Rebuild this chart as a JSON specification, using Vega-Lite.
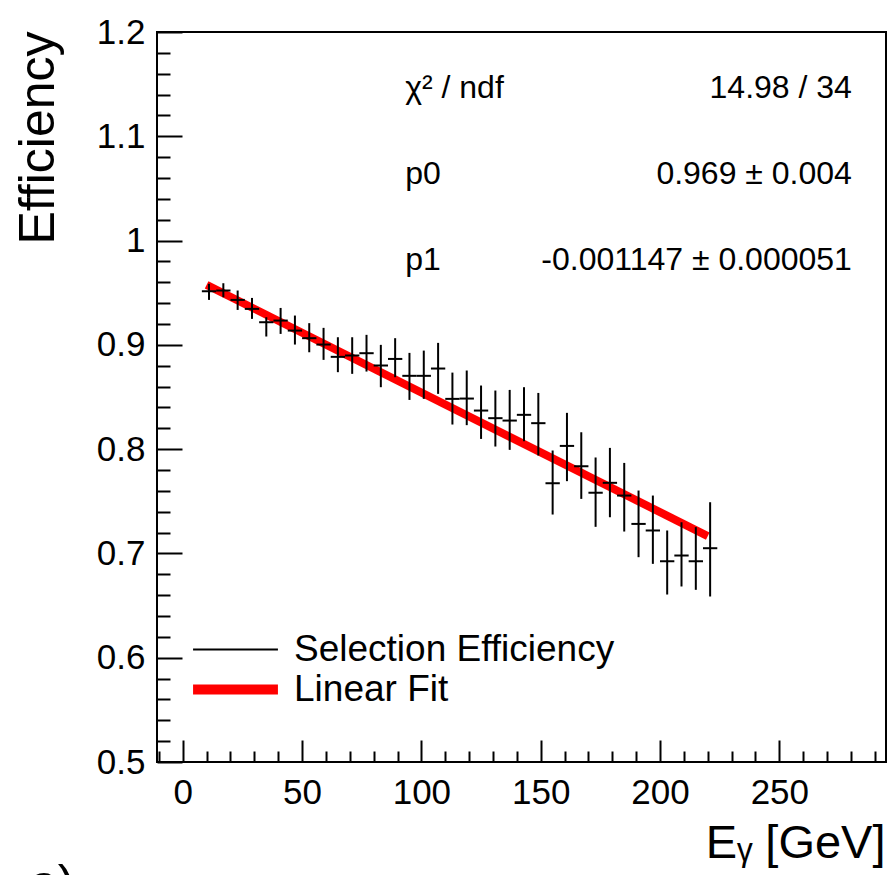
{
  "$schema": "https://vega.github.io/schema/vega-lite/v6.json",
  "width": 729,
  "height": 730,
  "autosize": {"type": "none"},
  "padding": {"left": 157, "top": 32, "right": 9, "bottom": 113},
  "background": "white",
  "config": {
    "view": {"stroke": "black", "strokeWidth": 2},
    "font": "Liberation Sans",
    "axis": {
      "domain": false,
      "grid": false,
      "tickColor": "black",
      "tickWidth": 2,
      "labelColor": "black",
      "titleColor": "black",
      "labelFont": "Liberation Sans",
      "titleFont": "Liberation Sans",
      "titleFontWeight": "normal",
      "labelFlush": false,
      "labelOverlap": false
    }
  },
  "datasets": {
    "eff": [
      {"x": 11, "xlo": 8, "xhi": 14, "y": 0.9514, "ylo": 0.9431, "yhi": 0.9585},
      {"x": 17, "xlo": 14, "xhi": 20, "y": 0.9521, "ylo": 0.9457, "yhi": 0.9591},
      {"x": 23, "xlo": 20, "xhi": 26, "y": 0.9431, "ylo": 0.9335, "yhi": 0.9521},
      {"x": 29, "xlo": 26, "xhi": 32, "y": 0.9345, "ylo": 0.9249, "yhi": 0.9450},
      {"x": 35, "xlo": 32, "xhi": 38, "y": 0.9217, "ylo": 0.9080, "yhi": 0.9265},
      {"x": 41, "xlo": 38, "xhi": 44, "y": 0.9233, "ylo": 0.9105, "yhi": 0.9354},
      {"x": 47, "xlo": 44, "xhi": 50, "y": 0.9137, "ylo": 0.9003, "yhi": 0.9281},
      {"x": 53, "xlo": 50, "xhi": 56, "y": 0.9064, "ylo": 0.8929, "yhi": 0.9208},
      {"x": 59, "xlo": 56, "xhi": 62, "y": 0.9003, "ylo": 0.8856, "yhi": 0.9163},
      {"x": 65, "xlo": 62, "xhi": 68, "y": 0.8885, "ylo": 0.8738, "yhi": 0.9073},
      {"x": 71, "xlo": 68, "xhi": 74, "y": 0.8898, "ylo": 0.8722, "yhi": 0.9073},
      {"x": 77, "xlo": 74, "xhi": 80, "y": 0.8920, "ylo": 0.8744, "yhi": 0.9096},
      {"x": 83, "xlo": 80, "xhi": 86, "y": 0.8802, "ylo": 0.8594, "yhi": 0.9000},
      {"x": 89, "xlo": 86, "xhi": 92, "y": 0.8865, "ylo": 0.8690, "yhi": 0.9064},
      {"x": 95, "xlo": 92, "xhi": 98, "y": 0.8703, "ylo": 0.8472, "yhi": 0.8923},
      {"x": 101, "xlo": 98, "xhi": 104, "y": 0.8703, "ylo": 0.8482, "yhi": 0.8945},
      {"x": 107, "xlo": 104, "xhi": 110, "y": 0.8773, "ylo": 0.8530, "yhi": 0.9019},
      {"x": 113, "xlo": 110, "xhi": 116, "y": 0.8482, "ylo": 0.8236, "yhi": 0.8734},
      {"x": 119, "xlo": 116, "xhi": 122, "y": 0.8485, "ylo": 0.8230, "yhi": 0.8754},
      {"x": 125, "xlo": 122, "xhi": 128, "y": 0.8370, "ylo": 0.8098, "yhi": 0.8610},
      {"x": 131, "xlo": 128, "xhi": 134, "y": 0.8297, "ylo": 0.8025, "yhi": 0.8562},
      {"x": 137, "xlo": 134, "xhi": 140, "y": 0.8274, "ylo": 0.7993, "yhi": 0.8568},
      {"x": 143, "xlo": 140, "xhi": 146, "y": 0.8329, "ylo": 0.8076, "yhi": 0.8594},
      {"x": 149, "xlo": 146, "xhi": 152, "y": 0.8249, "ylo": 0.7939, "yhi": 0.8539},
      {"x": 155, "xlo": 152, "xhi": 158, "y": 0.7673, "ylo": 0.7373, "yhi": 0.7987},
      {"x": 161, "xlo": 158, "xhi": 164, "y": 0.8031, "ylo": 0.7693, "yhi": 0.8348},
      {"x": 167, "xlo": 164, "xhi": 170, "y": 0.7836, "ylo": 0.7523, "yhi": 0.8162},
      {"x": 173, "xlo": 170, "xhi": 176, "y": 0.7582, "ylo": 0.7255, "yhi": 0.7920},
      {"x": 179, "xlo": 176, "xhi": 182, "y": 0.7677, "ylo": 0.7347, "yhi": 0.8012},
      {"x": 185, "xlo": 182, "xhi": 188, "y": 0.7555, "ylo": 0.7210, "yhi": 0.7868},
      {"x": 191, "xlo": 188, "xhi": 194, "y": 0.7283, "ylo": 0.6964, "yhi": 0.7603},
      {"x": 197, "xlo": 194, "xhi": 200, "y": 0.7220, "ylo": 0.6900, "yhi": 0.7555},
      {"x": 203, "xlo": 200, "xhi": 206, "y": 0.6925, "ylo": 0.6606, "yhi": 0.7220},
      {"x": 209, "xlo": 206, "xhi": 212, "y": 0.6980, "ylo": 0.6683, "yhi": 0.7299},
      {"x": 215, "xlo": 212, "xhi": 218, "y": 0.6925, "ylo": 0.6651, "yhi": 0.7252},
      {"x": 221, "xlo": 218, "xhi": 224, "y": 0.7050, "ylo": 0.6587, "yhi": 0.7491}
    ],
    "fit": [
      {"x": 10, "y": 0.95753},
      {"x": 220, "y": 0.71666}
    ],
    "stats": [
      {"label": "χ² / ndf", "value": "14.98 / 34", "y": 1.1371},
      {"label": "p0", "value": "0.969 ± 0.004", "y": 1.0547},
      {"label": "p1", "value": "-0.001147 ± 0.000051", "y": 0.9722}
    ],
    "note": [
      {"text": "a)", "x": -64, "y": 0.4056}
    ]
  },
  "layer": [
    {
      "data": {"name": "fit"},
      "mark": {"type": "line", "strokeWidth": 8, "strokeCap": "butt"},
      "encoding": {
        "x": {
          "field": "x", "type": "quantitative",
          "scale": {"domain": [-10.8, 294.7], "nice": false, "zero": false},
          "axis": {
            "orient": "bottom",
            "values": [0, 50, 100, 150, 200, 250],
            "tickSize": -22,
            "labelPadding": 35,
            "labelFontSize": 35,
            "format": "d",
            "title": "Eᵧ [GeV]",
            "titleFontSize": 47,
            "titleAlign": "right",
            "titleBaseline": "alphabetic",
            "titleX": 728,
            "titleY": 95
          }
        },
        "y": {
          "field": "y", "type": "quantitative",
          "scale": {"domain": [0.5, 1.2], "nice": false, "zero": false},
          "axis": {
            "orient": "left",
            "values": [0.5, 0.6, 0.7, 0.8, 0.9, 1, 1.1, 1.2],
            "tickSize": -25,
            "labelPadding": 37,
            "labelFontSize": 35,
            "labelExpr": "datum.value == 1 ? '1' : format(datum.value, '.1f')",
            "title": "Efficiency",
            "titleFontSize": 50,
            "titleAngle": 270,
            "titleAlign": "right",
            "titleBaseline": "alphabetic",
            "titleX": -104,
            "titleY": -1
          }
        },
        "color": {
          "datum": "Linear Fit",
          "type": "nominal",
          "scale": {"domain": ["Selection Efficiency", "Linear Fit"], "range": ["#000000", "#ff0000"]},
          "legend": {
            "orient": "none",
            "legendX": 60,
            "legendY": 599,
            "title": null,
            "padding": 0,
            "symbolType": "M-2.07,0H2.07",
            "symbolSize": 1681,
            "symbolOffset": 0,
            "rowPadding": 1,
            "labelFontSize": 37,
            "labelFont": "Liberation Sans",
            "labelColor": "black",
            "labelOffset": 40,
            "labelLimit": 0,
            "encode": {
              "symbols": {
                "update": {
                  "strokeWidth": {"signal": "datum.value === 'Linear Fit' ? 10 : 2"},
                  "fill": {"value": "transparent"}
                }
              }
            }
          }
        }
      }
    },
    {
      "data": {"name": "eff"},
      "mark": {"type": "rule", "strokeWidth": 2},
      "encoding": {
        "x": {
          "field": "x", "type": "quantitative",
          "scale": {"domain": [-10.8, 294.7], "nice": false, "zero": false},
          "axis": {
            "orient": "bottom",
            "values": [-10, 10, 20, 30, 40, 60, 70, 80, 90, 110, 120, 130, 140, 160, 170, 180, 190, 210, 220, 230, 240, 260, 270, 280, 290],
            "tickSize": -11,
            "labels": false,
            "title": null
          }
        },
        "y": {
          "field": "ylo", "type": "quantitative",
          "scale": {"domain": [0.5, 1.2], "nice": false, "zero": false},
          "axis": {
            "orient": "left",
            "values": [0.52, 0.54, 0.56, 0.58, 0.62, 0.64, 0.66, 0.68, 0.72, 0.74, 0.76, 0.78, 0.82, 0.84, 0.86, 0.88, 0.92, 0.94, 0.96, 0.98, 1.02, 1.04, 1.06, 1.08, 1.12, 1.14, 1.16, 1.18],
            "tickSize": -13,
            "labels": false,
            "title": null
          }
        },
        "y2": {"field": "yhi"},
        "color": {"datum": "Selection Efficiency", "type": "nominal"}
      }
    },
    {
      "data": {"name": "eff"},
      "mark": {"type": "rule", "strokeWidth": 2},
      "encoding": {
        "x": {
          "field": "xlo", "type": "quantitative",
          "scale": {"domain": [-10.8, 294.7], "nice": false, "zero": false},
          "axis": null
        },
        "x2": {"field": "xhi"},
        "y": {
          "field": "y", "type": "quantitative",
          "scale": {"domain": [0.5, 1.2], "nice": false, "zero": false},
          "axis": null
        },
        "color": {"datum": "Selection Efficiency", "type": "nominal"}
      }
    },
    {
      "data": {"name": "stats"},
      "mark": {"type": "text", "align": "left", "baseline": "alphabetic", "fontSize": 32, "font": "Liberation Sans", "color": "black"},
      "encoding": {
        "x": {"datum": 93.2, "type": "quantitative", "scale": {"domain": [-10.8, 294.7], "nice": false, "zero": false}, "axis": null},
        "y": {"field": "y", "type": "quantitative", "scale": {"domain": [0.5, 1.2], "nice": false, "zero": false}, "axis": null},
        "text": {"field": "label"}
      }
    },
    {
      "data": {"name": "stats"},
      "mark": {"type": "text", "align": "right", "baseline": "alphabetic", "fontSize": 32, "font": "Liberation Sans", "color": "black"},
      "encoding": {
        "x": {"datum": 280.4, "type": "quantitative", "scale": {"domain": [-10.8, 294.7], "nice": false, "zero": false}, "axis": null},
        "y": {"field": "y", "type": "quantitative", "scale": {"domain": [0.5, 1.2], "nice": false, "zero": false}, "axis": null},
        "text": {"field": "value"}
      }
    },
    {
      "data": {"name": "note"},
      "mark": {"type": "text", "align": "left", "baseline": "top", "fontSize": 50, "font": "Liberation Sans", "color": "black"},
      "encoding": {
        "x": {"field": "x", "type": "quantitative", "scale": {"domain": [-10.8, 294.7], "nice": false, "zero": false}, "axis": null},
        "y": {"field": "y", "type": "quantitative", "scale": {"domain": [0.5, 1.2], "nice": false, "zero": false}, "axis": null},
        "text": {"field": "text"}
      }
    }
  ],
  "resolve": {"axis": {"x": "independent", "y": "independent"}}
}
